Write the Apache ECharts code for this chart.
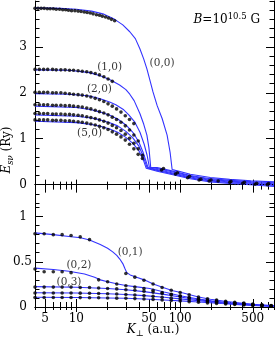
<!DOCTYPE html>
<html><head><meta charset="utf-8">
<script src="https://cdn.jsdelivr.net/npm/echarts@6/dist/echarts.min.js"></script>
<style>html,body{margin:0;padding:0;background:#fff}#c{width:276px;height:341px}</style>
</head><body><div id="c"></div>
<script>
// ---------- axis ranges & ticks ----------
const xMin = 4, xMax = 800;
const xMajorTicks = [5, 10, 50, 100, 500];
const xMinorTicks = [4, 6, 7, 8, 9, 20, 30, 40, 60, 70, 80, 90, 200, 300, 400, 600, 700, 800];
const xTickLabels = [5, 10, 50, 100, 500];
const yTopRange = [-0.4, 4];
const yTopMajor = [0, 1, 2, 3];
const yTopMinor = [-0.4, -0.2, 0.2, 0.4, 0.6, 0.8, 1.2, 1.4, 1.6, 1.8, 2.2, 2.4, 2.6, 2.8, 3.2, 3.4, 3.6, 3.8, 4.0];
const yTopLabels = [0, 1, 2, 3];
const yBotRange = [0, 1.15];
const yBotMajor = [0, 0.5, 1];
const yBotMinor = [0.1, 0.2, 0.3, 0.4, 0.6, 0.7, 0.8, 0.9, 1.1];
const yBotLabels = [0, 0.5, 1];

// ---------- top panel: curves (K, E) ----------
const line00 = [[4,3.85],[7,3.84],[10,3.82],[14,3.78],[18,3.72],[23.4,3.6],[28,3.48],[32.7,3.33],[37,3.18],[40.9,2.96],[44.5,2.74],[47.8,2.52],[51,2.28],[54.7,2.02],[60,1.72],[67,1.44],[74.8,1.08],[80,0.7],[83.6,0.33],[90,0.31],[125,0.225],[195,0.155],[300,0.115],[480,0.085],[800,0.06]];
const line10 = [[4,2.50],[8.5,2.49],[13.4,2.44],[17,2.37],[20.9,2.29],[26.1,2.17],[30,2.07],[32.7,1.97],[36,1.83],[40.9,1.55],[44.5,1.32],[47.8,1.08],[50,0.8],[52,0.38],[60,0.37],[85,0.295],[125,0.2],[195,0.13],[300,0.093],[480,0.065],[800,0.04]];
const line20 = [[4,1.98],[8.5,1.97],[13.4,1.93],[17,1.87],[20.9,1.80],[24,1.74],[28.6,1.63],[32,1.52],[36.6,1.36],[41,1.14],[45,0.88],[48,0.64],[50.5,0.38],[60,0.35],[85,0.275],[125,0.185],[195,0.113],[300,0.076],[480,0.048],[800,0.02]];
const line30 = [[4,1.71],[10,1.68],[14,1.63],[17,1.58],[21,1.51],[25,1.43],[30,1.30],[35,1.14],[40,0.93],[44,0.70],[47,0.5],[49,0.37],[60,0.33],[85,0.255],[125,0.165],[195,0.096],[300,0.059],[480,0.031],[800,0.0]];
const line40 = [[4,1.52],[10,1.49],[14,1.45],[17,1.41],[21,1.35],[25,1.28],[30,1.16],[35,1.02],[40,0.84],[44,0.62],[48,0.37],[60,0.31],[85,0.235],[125,0.148],[195,0.078],[300,0.042],[480,0.014],[800,-0.02]];
const line50 = [[4,1.38],[10,1.35],[14,1.31],[17,1.27],[21,1.21],[25,1.14],[30,1.03],[35,0.90],[40,0.74],[44,0.55],[47,0.36],[60,0.29],[85,0.215],[125,0.13],[195,0.06],[300,0.025],[480,-0.003],[800,-0.04]];

// ---------- top panel: computed points ----------
const dotK00 = [4,4.28,4.58,4.9,5.25,5.6,6.0,6.4,6.9,7.4,7.9,8.4,9.0,9.7,10.4,11.1,11.9,12.7,13.6,14.5,15.6,16.7,17.8,19.1,20.4,21.8,23.4];
const dotE00 = [3.84,3.84,3.84,3.84,3.83,3.83,3.83,3.82,3.82,3.81,3.81,3.80,3.79,3.79,3.78,3.77,3.76,3.75,3.74,3.72,3.70,3.69,3.67,3.65,3.63,3.60,3.57];
const dotK = [4.0,4.4,4.84,5.3,5.9,6.4,7.1,7.8,8.6,9.4,10.4,11.4,12.6,13.8,15.2,16.7,18.4,20.2,22.2,24.4,26.9,29.6,32.5,35.8,39.4,43.3];
const dotE10 = [2.51,2.51,2.51,2.51,2.51,2.50,2.50,2.50,2.49,2.49,2.48,2.47,2.46,2.44,2.42,2.39,2.35,2.30,2.25];
const dotE20 = [2.01,2.01,2.01,2.01,2.00,2.00,2.00,1.99,1.98,1.97,1.96,1.95,1.93,1.91,1.88,1.85,1.81,1.76,1.71,1.65,1.58,1.50,1.42,1.33];
const dotE30 = [1.74,1.74,1.74,1.74,1.73,1.73,1.73,1.72,1.72,1.71,1.70,1.69,1.67,1.65,1.62,1.59,1.56,1.52,1.47,1.42,1.36,1.28,1.19,1.08,0.95];
const dotE40 = [1.55,1.55,1.55,1.55,1.54,1.54,1.54,1.53,1.53,1.52,1.51,1.50,1.48,1.46,1.44,1.41,1.38,1.34,1.29,1.24,1.18,1.10,1.01,0.90,0.78,0.64];
const dotE50 = [1.41,1.41,1.41,1.41,1.40,1.40,1.40,1.39,1.39,1.38,1.37,1.36,1.34,1.32,1.30,1.27,1.24,1.20,1.15,1.10,1.04,0.97,0.88,0.78,0.66,0.57];
const tailDots = [[66,0.32],[69,0.35],[90,0.23],[94,0.26],[118,0.15],[123,0.18],[152,0.10],[158,0.12],[190,0.08],[198,0.10],[232,0.08],[300,0.05],[308,0.07],[400,0.03],[415,0.05],[525,0.01],[545,0.03],[690,0.0],[710,0.025]];

// ---------- bottom panel: curves ----------
const line01 = [[4,0.82],[6,0.80],[8.5,0.78],[11,0.765],[13.4,0.74],[17,0.69],[20,0.65],[22.4,0.61],[24.5,0.57],[26.2,0.53],[28,0.48],[29.5,0.42],[30.6,0.38],[33,0.355],[38,0.33],[45,0.30],[55,0.255],[68.5,0.215],[85,0.18],[107,0.155],[150,0.11],[195,0.085],[280,0.06],[400,0.042],[560,0.025],[800,0.012]];
const line02 = [[4,0.43],[6,0.415],[8.5,0.395],[12,0.365],[15,0.33],[17,0.30],[20,0.28],[25,0.255],[30,0.237],[40,0.22],[51,0.205],[70,0.165],[100,0.125],[150,0.088],[200,0.068],[300,0.047],[500,0.027],[800,0.012]];
const line03 = [[4,0.225],[10,0.218],[20,0.205],[30,0.19],[45,0.17],[70,0.14],[100,0.11],[150,0.08],[250,0.05],[400,0.03],[800,0.01]];
const line04 = [[4,0.158],[10,0.154],[20,0.146],[30,0.138],[45,0.126],[70,0.108],[100,0.09],[150,0.07],[250,0.045],[400,0.028],[800,0.008]];
const line05 = [[4,0.107],[10,0.105],[20,0.1],[30,0.096],[45,0.089],[70,0.078],[100,0.068],[150,0.055],[250,0.038],[400,0.024],[800,0.006]];

// ---------- bottom panel: computed points ----------
const botK = [4,4.9,6,7.3,8.9,10.9,13.4,16.4,20,24.5,30,36.6,44.8,54.8,67,82,100,122,150,183,224,274,335,410,500,612,750];
const dotE01 = [0.81,0.81,0.80,0.80,0.79,0.775,0.745,null,null,null,0.37,0.33,0.295,0.255,0.215,0.185,0.16,0.135,0.11,0.092,0.077,0.064,0.053,0.043,0.033,0.024,0.016];
const dotE02 = [0.42,0.39,0.39,0.39,0.38,null,null,0.30,0.28,0.255,0.235,0.22,0.205,0.185,0.16,0.14,0.12,0.10,0.085,0.07,0.06,0.05,0.04,0.032,0.025,0.018,0.012];
const dotE03 = [0.22,0.22,0.22,0.22,0.22,0.215,0.215,0.21,0.205,0.20,0.19,0.185,0.175,0.165,0.15,0.135,0.12,0.105,0.09,0.078,0.066,0.055,0.045,0.036,0.028,0.02,0.014];
const dotE04 = [0.155,0.155,0.155,0.155,0.155,0.153,0.152,0.15,0.147,0.143,0.138,0.133,0.126,0.118,0.108,0.098,0.088,0.078,0.068,0.058,0.05,0.042,0.035,0.028,0.022,0.016,0.011];
const dotE05 = [0.105,0.105,0.105,0.105,0.105,0.104,0.103,0.102,0.10,0.098,0.096,0.093,0.089,0.084,0.078,0.072,0.066,0.058,0.052,0.045,0.039,0.033,0.027,0.022,0.017,0.012,0.008];

// ---------- curve labels ----------
const topLabels = [{name:'(0,0)', value:[66.9,2.65]},{name:'(1,0)', value:[20.9,2.55]},{name:'(2,0)', value:[16.7,2.07]},{name:'(5,0)', value:[13.4,1.11]}];
const botLabels = [{name:'(0,1)', value:[33,0.60]},{name:'(0,2)', value:[10.6,0.465]},{name:'(0,3)', value:[8.5,0.277]}];

// ---------- styling ----------
const BLUE = '#3333ff';
const FONT = 'DejaVu Serif';
const BLACK = '#000';

function zip(ks, es) { const out = []; ks.forEach((k, i) => { if (es[i] != null) out.push([k, es[i]]); }); return out; }

function xAxesFor(grid, lens, showLabels) {
  const base = {gridIndex: grid, type: 'log', logBase: 10, min: xMin, max: xMax,
    splitLine: {show: false}, minorTick: {show: false}, axisPointer: {show: false}};
  const mk = (pos, vals, len, line, labels) => Object.assign({}, base, {
    position: pos,
    axisLine: {show: line, lineStyle: {color: BLACK, width: 1}},
    axisTick: {show: true, inside: true, length: len, customValues: vals, lineStyle: {color: BLACK, width: 1}},
    axisLabel: labels ? {show: true, customValues: xTickLabels, margin: 6, color: BLACK,
      fontFamily: FONT, fontSize: 12, formatter: v => String(v)} : {show: false}
  });
  return [
    mk('bottom', xMajorTicks, lens.bMaj, true, showLabels),
    mk('bottom', xMinorTicks, lens.bMin, false, false),
    mk('top', xMajorTicks, lens.tMaj, true, false),
    mk('top', xMinorTicks, lens.tMin, false, false)
  ];
}
function yAxesFor(grid, range, major, minor, labels) {
  const base = {gridIndex: grid, type: 'value', min: range[0], max: range[1],
    splitLine: {show: false}, minorTick: {show: false}, axisPointer: {show: false}};
  const mk = (pos, vals, len, line, showLab) => Object.assign({}, base, {
    position: pos,
    axisLine: {show: line, lineStyle: {color: BLACK, width: 1}},
    axisTick: {show: true, inside: true, length: len, customValues: vals, lineStyle: {color: BLACK, width: 1}},
    axisLabel: showLab ? {show: true, customValues: labels, margin: 3, color: BLACK,
      fontFamily: FONT, fontSize: 12,
      formatter: v => Number.isInteger(v) ? '{i|' + v + '}' : '{d|' + v + '}',
      rich: {i: {fontFamily: FONT, fontSize: 12, color: BLACK, padding: [0, 5, 0, 0]},
             d: {fontFamily: FONT, fontSize: 12, color: BLACK}}} : {show: false}
  });
  return [
    mk('left', major, 8, true, true),
    mk('left', minor, 4.5, false, false),
    mk('right', major, 8, true, false),
    mk('right', minor, 4.5, false, false)
  ];
}

const lineSeries = (data, xi, yi) => ({type: 'line', xAxisIndex: xi, yAxisIndex: yi, data: data,
  showSymbol: false, symbol: 'none', lineStyle: {color: BLUE, width: 1.1}, z: 2, silent: true});
const dotSeries = (data, xi, yi) => ({type: 'scatter', xAxisIndex: xi, yAxisIndex: yi, data: data,
  symbol: 'circle', symbolSize: 3.6, itemStyle: {color: BLACK}, z: 3, silent: true});
const labelSeries = (data, xi, yi) => ({type: 'scatter', xAxisIndex: xi, yAxisIndex: yi, data: data,
  symbolSize: 1, itemStyle: {color: 'rgba(0,0,0,0)'}, z: 4, silent: true,
  label: {show: true, position: 'inside', formatter: '{b}', color: BLACK, fontFamily: FONT, fontSize: 10.5}});

const option = {
  animation: false,
  backgroundColor: '#fff',
  grid: [
    {left: 35, right: 2, top: 1, height: 202, outerBoundsMode: 'none', containLabel: false},
    {left: 35, right: 2, top: 203, height: 104, outerBoundsMode: 'none', containLabel: false}
  ],
  xAxis: [].concat(
    xAxesFor(0, {bMaj: 5, bMin: 3, tMaj: 8, tMin: 5}, false),
    xAxesFor(1, {bMaj: 8, bMin: 5, tMaj: 5, tMin: 3}, true)
  ),
  yAxis: [].concat(
    yAxesFor(0, yTopRange, yTopMajor, yTopMinor, yTopLabels),
    yAxesFor(1, yBotRange, yBotMajor, yBotMinor, yBotLabels)
  ),
  series: [
    Object.assign(lineSeries(line00, 0, 0), {markLine: {silent: true, symbol: 'none', label: {show: false},
      lineStyle: {color: BLACK, width: 1, type: [1, 2]}, data: [{yAxis: 0}]}}),
    lineSeries(line10, 0, 0), lineSeries(line20, 0, 0), lineSeries(line30, 0, 0),
    lineSeries(line40, 0, 0), lineSeries(line50, 0, 0),
    dotSeries([].concat(zip(dotK00, dotE00), zip(dotK, dotE10), zip(dotK, dotE20), zip(dotK, dotE30),
      zip(dotK, dotE40), zip(dotK, dotE50), tailDots), 0, 0),
    labelSeries(topLabels, 0, 0),
    lineSeries(line01, 4, 4), lineSeries(line02, 4, 4), lineSeries(line03, 4, 4),
    lineSeries(line04, 4, 4), lineSeries(line05, 4, 4),
    dotSeries([].concat(zip(botK, dotE01), zip(botK, dotE02), zip(botK, dotE03), zip(botK, dotE04), zip(botK, dotE05)), 4, 4),
    labelSeries(botLabels, 4, 4)
  ],
  graphic: [
    {type: 'text', x: 260, y: 20, silent: true, style: {
      text: '{bi|B}{n|=10}{sup|10.5}{n| G}', align: 'right', verticalAlign: 'middle',
      textAlign: 'right', textVerticalAlign: 'middle',
      rich: {bi: {fontFamily: FONT, fontStyle: 'italic', fontSize: 12, lineHeight: 16, fill: BLACK, color: BLACK},
             n: {fontFamily: FONT, fontSize: 12, lineHeight: 16, fill: BLACK, color: BLACK},
             sup: {fontFamily: FONT, fontSize: 8.5, verticalAlign: 'top', fill: BLACK, color: BLACK}}}},
    {type: 'text', x: 153, y: 330, silent: true, style: {
      text: '{i|K}{sub|⊥}{n| (a.u.)}', align: 'center', verticalAlign: 'middle',
      textAlign: 'center', textVerticalAlign: 'middle',
      rich: {i: {fontFamily: FONT, fontStyle: 'italic', fontSize: 12, lineHeight: 16, fill: BLACK},
             n: {fontFamily: FONT, fontSize: 12, lineHeight: 16, fill: BLACK},
             sub: {fontFamily: FONT, fontSize: 8.5, verticalAlign: 'bottom', fill: BLACK}}}},
    {type: 'text', x: 7, y: 150, rotation: Math.PI / 2, silent: true, style: {
      text: '{i|E}{sub|sν}{n| (Ry)}', align: 'center', verticalAlign: 'middle',
      textAlign: 'center', textVerticalAlign: 'middle',
      rich: {i: {fontFamily: FONT, fontStyle: 'italic', fontSize: 12, lineHeight: 16, fill: BLACK},
             n: {fontFamily: FONT, fontSize: 12, lineHeight: 16, fill: BLACK},
             sub: {fontFamily: FONT, fontStyle: 'italic', fontSize: 8.5, verticalAlign: 'bottom', fill: BLACK}}}}
  ]
};
echarts.init(document.getElementById('c'), null, {renderer: 'canvas'}).setOption(option);
</script></body></html>
